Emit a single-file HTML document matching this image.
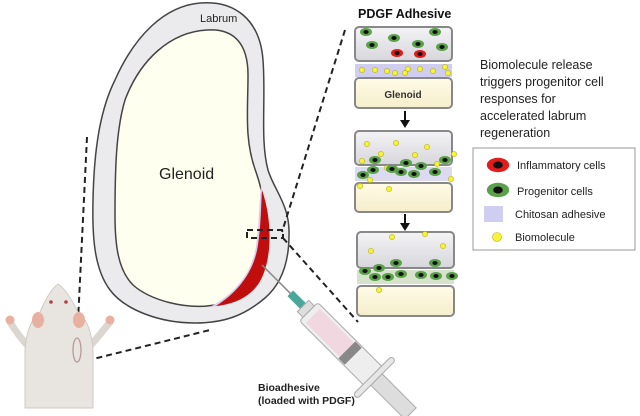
<!DOCTYPE html>
<html><head><meta charset="utf-8"><style>
body{margin:0;background:#fff;}
svg{display:block;font-family:"Liberation Sans",Arial,sans-serif;}
</style></head><body>
<svg width="640" height="416" viewBox="0 0 640 416" xmlns="http://www.w3.org/2000/svg">
<defs>
<linearGradient id="gb" x1="0" y1="0" x2="0" y2="1"><stop offset="0" stop-color="#f4f4f6"/><stop offset="1" stop-color="#d6d6dc"/></linearGradient>
<linearGradient id="cr" x1="0" y1="0" x2="0" y2="1"><stop offset="0" stop-color="#fffbe6"/><stop offset="1" stop-color="#f5eecc"/></linearGradient>
<g id="pc"><ellipse rx="6" ry="4" fill="#5aa14a"/><ellipse rx="2.6" ry="2" fill="#111"/></g>
<g id="ic"><ellipse rx="6" ry="4" fill="#e21b1b"/><ellipse rx="2.6" ry="2" fill="#111"/></g>
<g id="bm"><circle r="2.6" fill="#f7f33a" stroke="#b8b000" stroke-width="0.6"/></g>
</defs>

<!-- labrum / glenoid -->
<path d="M200,3 C235,0 260,20 263,60 C266,100 260,140 268,170 C274,190 290,205 289,235 C289,265 280,285 265,298 C245,315 225,323 195,323 C160,323 125,310 110,290 C95,270 92,240 93,200 C94,150 100,110 115,80 C135,35 165,6 200,3 Z" fill="#ebebed" stroke="#444" stroke-width="1.5"/>
<path d="M207,30 C235,28 248,45 248,75 C248,110 244,140 256,172 C264,195 268,220 262,250 C258,275 245,295 215,305 C185,310 150,300 133,285 C118,270 115,245 115,215 C115,170 116,130 125,100 C140,60 170,32 207,30 Z" fill="#fffff0" stroke="#444" stroke-width="1.5"/>
<path d="M261,186 C272,220 273,262 258,284 C248,299 230,306 210,307 C234,294 252,274 256,246 C259,225 259,205 261,186 Z" fill="#dccbee"/>
<path d="M262,190 C273,222 272,262 259,283 C249,298 233,304 216,306 C238,292 254,272 258,245 C261,225 261,205 262,190 Z" fill="#c00d0d"/>
<text x="200" y="22" font-size="11" fill="#222">Labrum</text>
<text x="159" y="179" font-size="16" fill="#222">Glenoid</text>

<!-- dashed lines -->
<g stroke="#222" stroke-width="2" stroke-dasharray="6,4" fill="none">
<line x1="345" y1="30" x2="282" y2="232"/>
<rect x="247" y="230" width="36" height="8"/>
<line x1="283" y1="238" x2="358" y2="322"/>
<line x1="87" y1="137" x2="76" y2="362"/>
<line x1="77" y1="363" x2="210" y2="330"/>
</g>

<!-- mouse -->
<g>
<path d="M30,348 C22,340 16,332 10,322" stroke="#dcd6d0" stroke-width="7" fill="none" stroke-linecap="round"/>
<path d="M88,348 C96,340 102,332 110,322" stroke="#dcd6d0" stroke-width="7" fill="none" stroke-linecap="round"/>
<path d="M58,284 C52,288 45,300 40,312 C30,320 26,335 25,350 L25,408 L93,408 L93,350 C92,335 88,320 78,312 C72,300 65,288 58,284 Z" fill="#e8e4e0" stroke="#d0cac4"/>
<ellipse cx="38" cy="320" rx="6" ry="8" fill="#e8b0a0"/>
<ellipse cx="79" cy="320" rx="6" ry="8" fill="#e8b0a0"/>
<circle cx="10" cy="320" r="4.5" fill="#e8b0a0"/><circle cx="110" cy="320" r="4.5" fill="#e8b0a0"/>
<circle cx="51" cy="302" r="1.8" fill="#a44"/><circle cx="66" cy="302" r="1.8" fill="#a44"/>
<ellipse cx="77" cy="350" rx="4" ry="12" fill="none" stroke="#b99" stroke-width="1.3"/>
</g>

<!-- syringe -->
<g transform="translate(262,265) rotate(45)">
<line x1="0" y1="0" x2="40" y2="0" stroke="#888" stroke-width="1.5"/>
<rect x="40" y="-4" width="18" height="8" fill="#4aa89a"/>
<rect x="58" y="-8" width="8" height="16" fill="#ddd" stroke="#aaa"/>
<rect x="66" y="-13" width="92" height="26" rx="3" fill="#eee" stroke="#aaa"/>
<rect x="72" y="-10" width="50" height="20" fill="#f1d8e0"/>
<rect x="120" y="-12" width="9" height="24" fill="#888"/>
<rect x="156" y="-27" width="6" height="54" rx="3" fill="#e6e6e6" stroke="#aaa"/>
<rect x="162" y="-8" width="48" height="16" fill="#ddd" stroke="#aaa"/>
</g>
<text x="258" y="391" font-size="10.5" font-weight="bold" fill="#222">Bioadhesive</text>
<text x="258" y="404" font-size="10.5" font-weight="bold" fill="#222">(loaded with PDGF)</text>

<!-- right panels -->
<text x="358" y="18" font-size="12.5" font-weight="bold" fill="#111">PDGF Adhesive</text>
<g stroke="#888" stroke-width="2">
<rect x="355" y="27" width="97" height="34" rx="4" fill="url(#gb)"/>
<rect x="355" y="78" width="97" height="30" rx="4" fill="url(#cr)"/>
<rect x="355" y="131" width="97" height="34" rx="4" fill="url(#gb)"/>
<rect x="355" y="183" width="97" height="29" rx="4" fill="url(#cr)"/>
<rect x="357" y="232" width="97" height="36" rx="4" fill="url(#gb)"/>
<rect x="357" y="286" width="97" height="30" rx="4" fill="url(#cr)"/>
</g>
<rect x="355" y="64" width="97" height="13" fill="#cfcdf0"/>
<rect x="355" y="167" width="97" height="14" fill="#dcdaf0"/>
<rect x="357" y="270" width="97" height="14" fill="#d6e2cc"/>
<text x="403" y="98" font-size="10" font-weight="bold" text-anchor="middle" fill="#333">Glenoid</text>
<g fill="#111" stroke="#111" stroke-width="2">
<line x1="405" y1="111" x2="405" y2="121"/><path d="M400,120 L410,120 L405,128 Z" stroke="none"/>
<line x1="405" y1="214" x2="405" y2="224"/><path d="M400,223 L410,223 L405,231 Z" stroke="none"/>
</g>
<use href="#pc" x="366" y="32"/><use href="#pc" x="394" y="38"/><use href="#pc" x="435" y="32"/>
<use href="#pc" x="372" y="45"/><use href="#pc" x="418" y="44"/><use href="#pc" x="442" y="47"/>
<use href="#ic" x="397" y="53"/><use href="#ic" x="420" y="54"/>
<use href="#bm" x="362" y="70"/><use href="#bm" x="375" y="70"/><use href="#bm" x="387" y="71"/><use href="#bm" x="395" y="73"/><use href="#bm" x="408" y="69"/><use href="#bm" x="420" y="69"/><use href="#bm" x="433" y="71"/><use href="#bm" x="445" y="67"/><use href="#bm" x="448" y="73"/><use href="#bm" x="405" y="73"/>
<use href="#bm" x="367" y="144"/><use href="#bm" x="396" y="143"/><use href="#bm" x="427" y="147"/><use href="#bm" x="381" y="154"/><use href="#bm" x="415" y="155"/><use href="#bm" x="454" y="154"/><use href="#bm" x="362" y="161"/><use href="#bm" x="387" y="168"/><use href="#bm" x="437" y="164"/><use href="#bm" x="370" y="180"/><use href="#bm" x="451" y="179"/><use href="#bm" x="360" y="186"/><use href="#bm" x="389" y="189"/>
<use href="#pc" x="375" y="160"/><use href="#pc" x="406" y="163"/><use href="#pc" x="421" y="166"/><use href="#pc" x="445" y="160"/><use href="#pc" x="373" y="170"/><use href="#pc" x="392" y="169"/><use href="#pc" x="401" y="172"/><use href="#pc" x="414" y="174"/><use href="#pc" x="435" y="172"/><use href="#pc" x="363" y="175"/>
<use href="#bm" x="392" y="237"/><use href="#bm" x="425" y="234"/><use href="#bm" x="371" y="251"/><use href="#bm" x="443" y="246"/><use href="#bm" x="379" y="290"/>
<use href="#pc" x="379" y="268"/><use href="#pc" x="396" y="263"/><use href="#pc" x="435" y="263"/><use href="#pc" x="365" y="271"/>
<use href="#pc" x="375" y="277"/><use href="#pc" x="388" y="277"/><use href="#pc" x="401" y="274"/><use href="#pc" x="421" y="275"/><use href="#pc" x="436" y="276"/><use href="#pc" x="452" y="276"/>

<g font-size="12.5" fill="#222">
<text x="480" y="69">Biomolecule release</text>
<text x="480" y="86">triggers progenitor cell</text>
<text x="480" y="103">responses for</text>
<text x="480" y="120">accelerated labrum</text>
<text x="480" y="137">regeneration</text>
</g>
<rect x="473" y="148" width="162" height="102" fill="#fff" stroke="#999"/>
<g transform="translate(498,165) scale(1.6)"><ellipse rx="7" ry="4.5" fill="#e21b1b"/><ellipse rx="3" ry="2.2" fill="#111"/></g>
<g transform="translate(498,190) scale(1.6)"><ellipse rx="7" ry="4.5" fill="#5aa14a"/><ellipse rx="3" ry="2.2" fill="#111"/></g>
<rect x="484" y="206" width="19" height="16" fill="#cfcdf0"/>
<circle cx="497" cy="237" r="4.5" fill="#f7f33a" stroke="#b8b000" stroke-width="0.6"/>
<g font-size="11" fill="#222">
<text x="517" y="169">Inflammatory cells</text>
<text x="517" y="195">Progenitor cells</text>
<text x="515" y="218">Chitosan adhesive</text>
<text x="515" y="241">Biomolecule</text>
</g>
</svg>
</body></html>
